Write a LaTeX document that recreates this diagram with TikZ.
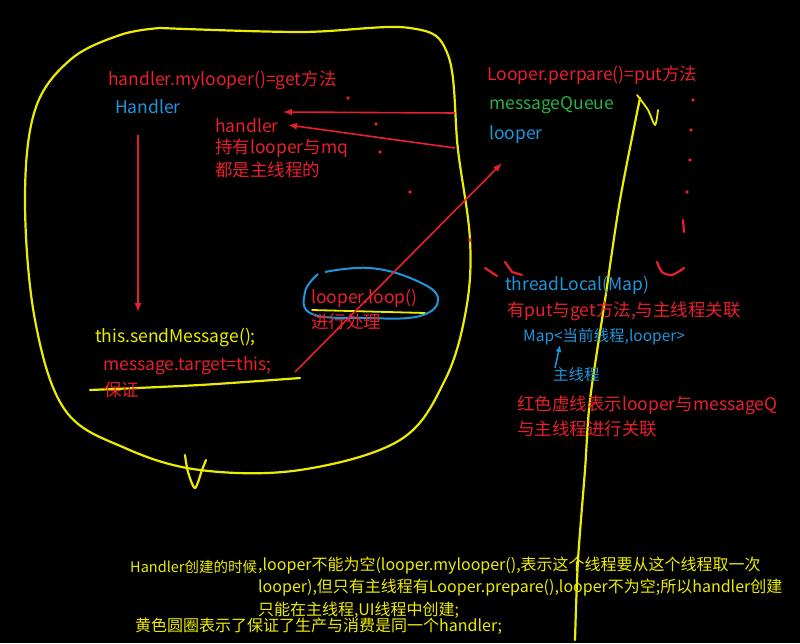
\documentclass[tikz,border=0pt]{standalone}
\usepackage{fontspec}
\setmainfont{Noto Sans CJK SC}
\usetikzlibrary{arrows.meta}
\begin{document}
\begin{tikzpicture}[x=1pt,y=-1pt,
  lbl/.style={anchor=west,inner sep=0pt,font=\fontsize{17.5}{20}\selectfont},
  sml/.style={anchor=west,inner sep=0pt,font=\fontsize{15.5}{17}\selectfont},
  btm/.style={anchor=west,inner sep=0pt,font=\fontsize{16}{18}\selectfont,text=yl},
  pen/.style={line width=2.2pt,line cap=round,line join=round},
  arr/.style={draw=rd,line width=1.6pt,-{Latex[length=9pt,width=7pt]}},
  dotr/.style={fill=rd,circle,inner sep=1.4pt}]
\definecolor{rd}{RGB}{232,32,44}
\definecolor{bl}{RGB}{30,150,220}
\definecolor{gn}{RGB}{40,175,70}
\definecolor{yl}{RGB}{236,236,0}
\fill[black] (0,0) rectangle (800,643);
\useasboundingbox (0,0) rectangle (800,643);
% big yellow loop
\draw[pen,yl] plot[smooth,tension=0.6] coordinates {(160,28) (300,32) (410,28) (448,55) (458,150) (470,240) (466,310) (445,380) (400,440) (300,470) (200,470) (125,448) (65,410) (35,320) (25,200) (35,110) (70,60) (120,35) (160,28)};
\draw[pen,yl] plot[smooth] coordinates {(185,455) (188,472) (195,488) (202,470) (206,460)};
\draw[pen,yl] plot[smooth] coordinates {(90,390) (200,385) (300,378)};
\draw[pen,yl,line width=1.8pt] (312,310) -- (425,313);
\draw[pen,yl] plot[smooth] coordinates {(640,98) (620,200) (605,300) (590,400) (585,470) (578,560) (575,640)};
\draw[pen,yl,line width=1.8pt] plot[smooth] coordinates {(637,95) (648,110) (655,125) (658,110)};
% blue ellipse
\draw[bl,line width=2pt] plot[smooth,tension=0.7] coordinates {(325,272) (370,268) (415,280) (438,298) (420,316) (365,318) (312,314) (305,292) (318,274)};
% texts
\node[lbl,text=rd] (hget) at (108,80) {handler.mylooper()=get方法};
\node[lbl,text=bl] (Hd) at (115,107) {Handler};
\node[lbl,text=rd] (h2) at (215,126) {handler};
\node[lbl,text=rd] (h3) at (215,148) {持有looper与mq};
\node[lbl,text=rd] (h4) at (215,170) {都是主线程的};
\node[lbl,text=rd] (lput) at (487,75) {Looper.perpare()=put方法};
\node[lbl,text=gn] (mq) at (489,105) {messageQueue};
\node[lbl,text=bl] (lp) at (489,135) {looper};
\node[lbl,text=bl] (tl) at (505,285) {threadLocal(Map)};
\node[lbl,text=rd] (tl2) at (507,311) {有put与get方法,与主线程关联};
\node[sml,text=bl] (mp) at (523,337) {Map<当前线程,looper>};
\node[sml,text=bl] (zx) at (553,375) {主线程};
\node[lbl,text=rd] (rx1) at (517,405) {红色虚线表示looper与messageQ};
\node[lbl,text=rd] (rx2) at (517,429) {与主线程进行关联};
\node[lbl,text=yl] (sm) at (95,338) {this.sendMessage();};
\node[lbl,text=rd] (mt) at (103,366) {message.target=this;};
\node[lbl,text=rd] (bz) at (104,390) {保证};
\node[lbl,text=rd] (ll) at (311,298) {looper.loop()};
\node[lbl,text=rd] (jx) at (311,322) {进行处理};
\node[anchor=west,inner sep=0pt,text=yl,font=\fontsize{14.5}{16}\selectfont] (hc) at (130,567) {Handler创建的时候};
\node[btm] (b1) at (258,566) {,looper不能为空(looper.mylooper(),表示这个线程要从这个线程取一次};
\node[btm] (b2) at (258,588) {looper),但只有主线程有Looper.prepare(),looper不为空;所以handler创建};
\node[btm] (b3) at (258,610) {只能在主线程,UI线程中创建;};
\node[btm] (b4) at (135,626) {黄色圆圈表示了保证了生产与消费是同一个handler;};
% arrows
\coordinate (a1) at (138,135); \coordinate (a2) at (138,312);
\draw[arr] (a1) -- (a2);
\coordinate (m1) at (455,113); \coordinate (m2) at (283,112);
\draw[arr] (m1) -- (m2);
\coordinate (l1) at (455,148); \coordinate (l2) at (288,125);
\draw[arr] (l1) -- (l2);
\coordinate (t1) at (295,372); \coordinate (t2) at (502,163);
\draw[arr] (t1) -- (t2);
\draw[bl,line width=1.5pt,-{Latex[length=7pt,width=6pt]}] (555,368) -- (560,345);
% red dotted
\foreach \p in {(348,98),(376,124),(380,152),(410,192),(470,240)} \node[dotr] at \p {};
\foreach \p in {(693,100),(691,130),(690,160),(687,192)} \node[dotr] at \p {};
\draw[rd,pen] (485,268) -- (497,276);
\draw[rd,pen] (505,262) -- (512,272) -- (522,275);
\draw[rd,pen] plot[smooth] coordinates {(657,262) (662,272) (672,275) (684,268)};
\draw[rd,pen] (683,220) -- (684,232);
\end{tikzpicture}
\end{document}
